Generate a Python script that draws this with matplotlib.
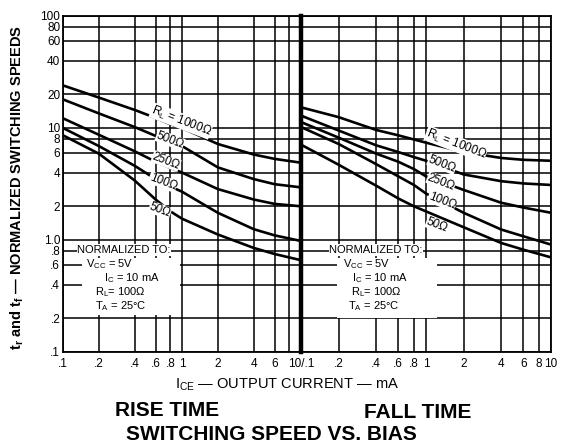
import matplotlib
matplotlib.use("Agg")
import matplotlib.pyplot as plt
from matplotlib.patches import Rectangle

plt.rcParams['font.family'] = ['Liberation Sans', 'DejaVu Sans']
plt.rcParams['mathtext.fontset'] = 'custom'
plt.rcParams['mathtext.rm'] = 'Liberation Sans'
plt.rcParams['mathtext.it'] = 'Liberation Sans:italic'
plt.rcParams['mathtext.bf'] = 'Liberation Sans:bold'

# ---------------- data ----------------
current_ma = [0.1, 0.2, 0.4, 0.6, 0.8, 1.0, 2.0, 4.0, 6.0, 10.0]

rise_1000 = [24, 18.7, 14.5, 12.3, 10.8, 10.0, 7.2, 5.8, 5.3, 4.9]
rise_500 = [18, 13.5, 10.2, 8.5, 7.5, 6.9, 4.45, 3.5, 3.15, 2.95]
rise_250 = [12.2, 8.7, 6.2, 5.0, 4.4, 4.0, 2.85, 2.3, 2.1, 2.0]
rise_100 = [10, 6.9, 4.6, 3.5, 3.0, 2.7, 1.75, 1.25, 1.1, 0.98]
rise_50 = [8.6, 5.9, 3.4, 2.3, 1.8, 1.55, 1.12, 0.85, 0.75, 0.66]

fall_1000 = [15.3, 12.5, 9.6, 8.6, 7.9, 7.4, 6.1, 5.4, 5.2, 5.1]
fall_500 = [12.9, 9.5, 7.0, 6.1, 5.5, 5.1, 3.85, 3.35, 3.2, 3.1]
fall_250 = [11.3, 8.2, 5.9, 5.0, 4.3, 3.7, 2.8, 2.15, 1.95, 1.75]
fall_100 = [10.2, 7.2, 4.75, 3.7, 3.1, 2.6, 1.75, 1.24, 1.08, 0.91]
fall_50 = [7.1, 4.7, 3.05, 2.35, 2.0, 1.8, 1.3, 0.94, 0.82, 0.7]

curve_labels = ["R$_\\mathrm{L}$ = 1000\u03a9", "500\u03a9", "250\u03a9", "100\u03a9", "50\u03a9"]

x_ticks = [0.1, 0.2, 0.4, 0.6, 0.8, 1, 2, 4, 6, 8, 10]
x_labels_rise = [".1", ".2", ".4", ".6", ".8", "1", "2", "4", "6", "", "10/.1"]
x_labels_fall = ["", ".2", ".4", ".6", ".8", "1", "2", "4", "6", "8", "10"]
y_ticks = [0.1, 0.2, 0.4, 0.6, 0.8, 1, 2, 4, 6, 8, 10, 20, 40, 60, 80, 100]
y_labels = [".1", ".2", ".4", ".6", ".8", "1.0", "2", "4", "6", "8", "10", "20", "40", "60", "80", "100"]

norm_lines = ["NORMALIZED TO:", "V$_\\mathrm{CC}$ = 5V", "I$_\\mathrm{C}$ = 10 mA",
              "R$_\\mathrm{L}$= 100\u03a9", "T$_\\mathrm{A}$ = 25\u00b0C"]

# ---------------- layout ----------------
W, H = 562, 446
fig = plt.figure(figsize=(W / 100, H / 100), dpi=100)
fig.patch.set_facecolor("white")


def fx(px):
    return px / W


def fy(py):
    return 1 - py / H


top, bot = 16, 352
axL = fig.add_axes([fx(63), fy(bot), fx(301) - fx(63), (bot - top) / H])
axR = fig.add_axes([fx(301), fy(bot), fx(551) - fx(301), (bot - top) / H], sharey=axL)

for ax, xl in ((axL, x_labels_rise), (axR, x_labels_fall)):
    ax.set_xscale("log")
    ax.set_yscale("log")
    ax.set_xlim(0.1, 10)
    ax.set_ylim(0.1, 100)
    ax.set_xticks(x_ticks)
    ax.set_xticklabels(xl, fontsize=8.5)
    ax.xaxis.set_minor_locator(matplotlib.ticker.NullLocator())
    ax.yaxis.set_minor_locator(matplotlib.ticker.NullLocator())
    ax.tick_params(axis="both", length=0, pad=4)
    ax.grid(True, which="major", color="black", lw=1.1)
    ax.set_axisbelow(True)
    for s in ax.spines.values():
        s.set_linewidth(1.3)

axL.set_yticks(y_ticks)
axL.set_yticklabels(y_labels, fontsize=8.5)
axL.tick_params(axis="y", pad=2)
axR.tick_params(axis="y", labelleft=False)
axL.spines["right"].set_visible(False)
axR.spines["left"].set_linewidth(3.2)

# curves
for ax, series in ((axL, [rise_1000, rise_500, rise_250, rise_100, rise_50]),
                   (axR, [fall_1000, fall_500, fall_250, fall_100, fall_50])):
    for s in series:
        ax.plot(current_ma, s, color="black", lw=1.9, solid_capstyle="butt",
                solid_joinstyle="round", zorder=3)


# helpers: pixel -> data
def to_data(ax, px, py):
    inv = ax.transData.inverted()
    return inv.transform((px, H - py))


# curve labels
left_lab_px = [(181, 121), (170, 140), (166, 161), (163, 182), (160, 210)]
right_lab_px = [(456, 144), (442, 164), (441, 182), (442, 201), (437, 225)]
for ax, poss in ((axL, left_lab_px), (axR, right_lab_px)):
    for lab, (px, py) in zip(curve_labels, poss):
        xd, yd = to_data(ax, px, py)
        ax.text(xd, yd, lab, fontsize=8.5, rotation=-21, ha="center", va="center",
                rotation_mode="anchor", zorder=5,
                bbox=dict(facecolor="white", edgecolor="none", pad=0.2))

# normalized-to boxes
for ax, box, poss in ((axL, (82, 258, 180, 315),
                       [(124, 250), (110, 264), (132, 278), (120, 292), (121, 306)]),
                      (axR, (337, 258, 437, 318),
                       [(376, 250), (367, 264), (380, 278), (376, 292), (374, 306)])):
    x0, y0, x1, y1 = box
    rect = Rectangle(((x0) / W, 1 - y1 / H), (x1 - x0) / W, (y1 - y0) / H,
                     transform=fig.transFigure, facecolor="white", edgecolor="none",
                     zorder=2)
    ax.add_artist(rect)
    for i, (lab, (px, py)) in enumerate(zip(norm_lines, poss)):
        xd, yd = to_data(ax, px, py)
        ax.text(xd, yd, lab, fontsize=8, ha="center", va="center", zorder=5,
                bbox=dict(facecolor="white", edgecolor="none", pad=0.5) if i == 0 else None)

# axis titles
fig.text(fx(17), fy(187), "t$_\\mathbf{r}$ and t$_\\mathbf{f}$ \u2014 NORMALIZED SWITCHING SPEEDS",
         rotation=90, ha="center", va="center", fontsize=10.5, fontweight="bold")
fig.text(fx(287), fy(385), "I$_\\mathrm{CE}$ \u2014 OUTPUT CURRENT \u2014 mA",
         ha="center", va="center", fontsize=10.5)
fig.text(fx(167), fy(411), "RISE TIME", ha="center", va="center", fontsize=15, fontweight="bold")
fig.text(fx(418), fy(413), "FALL TIME", ha="center", va="center", fontsize=15, fontweight="bold")
fig.text(fx(271), fy(435), "SWITCHING SPEED VS. BIAS", ha="center", va="center",
         fontsize=15, fontweight="bold")

fig.savefig("out.png", dpi=100, facecolor="white")
